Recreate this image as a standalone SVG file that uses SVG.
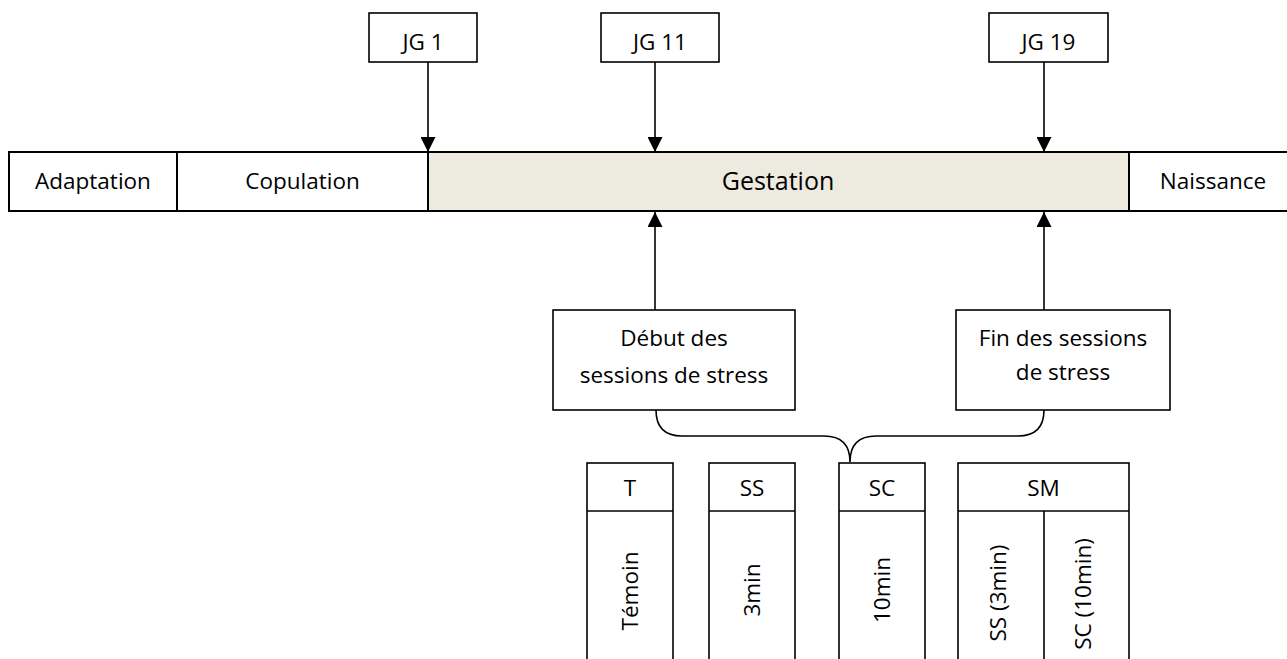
<svg xmlns="http://www.w3.org/2000/svg" width="1287" height="659" viewBox="0 0 1287 659">
  <style>
    .box { fill: #ffffff; stroke: #000000; stroke-width: 1.6; }
    .bar { fill: #ffffff; stroke: #000000; stroke-width: 2; }
    .gest { fill: #EDEAE0; stroke: #000000; stroke-width: 2; }
    .txt { font-family: "Open Sans", "Liberation Sans", sans-serif; font-size: 22.5px; fill: #000000; text-anchor: middle; }
    .big { font-size: 25px; }
    .conn { fill: none; stroke: #000000; stroke-width: 1.6; }
  </style>
  <defs>
    <marker id="arrow" markerUnits="userSpaceOnUse" markerWidth="15" markerHeight="15" refX="15" refY="7.5" orient="auto">
      <path d="M0,0 L15,7.5 L0,15 Z" fill="#000000"/>
    </marker>
  </defs>

  <rect width="1287" height="659" fill="#ffffff"/>

  <g id="timeline">
    <g id="adaptation">
      <rect class="bar" x="9" y="152" width="168" height="59"/>
      <text class="txt" x="93" y="189">Adaptation</text>
    </g>
    <g id="copulation">
      <rect class="bar" x="177" y="152" width="251" height="59"/>
      <text class="txt" x="302.5" y="189">Copulation</text>
    </g>
    <g id="gestation">
      <rect class="gest" x="428" y="152" width="701" height="59"/>
      <text class="txt big" x="778" y="190">Gestation</text>
    </g>
    <g id="naissance">
      <rect class="bar" x="1129" y="152" width="168" height="59"/>
      <text class="txt" x="1213" y="189">Naissance</text>
    </g>
  </g>

  <g id="jg1">
    <rect class="box" x="369" y="13" width="108" height="49"/>
    <text class="txt" x="423" y="50">JG 1</text>
  </g>
  <g id="jg11">
    <rect class="box" x="601" y="13" width="118" height="49"/>
    <text class="txt" x="660" y="50">JG 11</text>
  </g>
  <g id="jg19">
    <rect class="box" x="989" y="13" width="119" height="49"/>
    <text class="txt" x="1048.5" y="50">JG 19</text>
  </g>

  <g id="debut">
    <rect class="box" x="553" y="310" width="242" height="100"/>
    <text class="txt" x="674" y="346">Début des</text>
    <text class="txt" x="674" y="383">sessions de stress</text>
  </g>
  <g id="fin">
    <rect class="box" x="956" y="310" width="214" height="100"/>
    <text class="txt" x="1063" y="346">Fin des sessions</text>
    <text class="txt" x="1063" y="380">de stress</text>
  </g>

  <g id="group-T">
    <rect class="box" x="587" y="463" width="86" height="206"/>
    <line class="conn" x1="587" y1="511" x2="673" y2="511"/>
    <text class="txt" x="630" y="496">T</text>
    <text class="txt" transform="translate(638,591) rotate(-90)" x="0" y="0">Témoin</text>
  </g>
  <g id="group-SS">
    <rect class="box" x="709" y="463" width="86" height="206"/>
    <line class="conn" x1="709" y1="511" x2="795" y2="511"/>
    <text class="txt" x="752" y="496">SS</text>
    <text class="txt" transform="translate(760,590) rotate(-90)" x="0" y="0">3min</text>
  </g>
  <g id="group-SC">
    <rect class="box" x="839" y="463" width="86" height="206"/>
    <line class="conn" x1="839" y1="511" x2="925" y2="511"/>
    <text class="txt" x="882" y="496">SC</text>
    <text class="txt" transform="translate(890,590) rotate(-90)" x="0" y="0">10min</text>
  </g>
  <g id="group-SM">
    <rect class="box" x="958" y="463" width="171" height="206"/>
    <line class="conn" x1="958" y1="511" x2="1129" y2="511"/>
    <line class="conn" x1="1044" y1="511" x2="1044" y2="669"/>
    <text class="txt" x="1043.5" y="496">SM</text>
    <text class="txt" transform="translate(1006,593) rotate(-90)" x="0" y="0">SS (3min)</text>
    <text class="txt" transform="translate(1091,594) rotate(-90)" x="0" y="0">SC (10min)</text>
  </g>

  <g id="connectors">
    <line class="conn" x1="428" y1="62" x2="428" y2="152" marker-end="url(#arrow)"/>
    <line class="conn" x1="655" y1="62" x2="655" y2="152" marker-end="url(#arrow)"/>
    <line class="conn" x1="1044" y1="62" x2="1044" y2="152" marker-end="url(#arrow)"/>
    <line class="conn" x1="655" y1="310" x2="655" y2="212" marker-end="url(#arrow)"/>
    <line class="conn" x1="1044" y1="310" x2="1044" y2="212" marker-end="url(#arrow)"/>
    <path class="conn" d="M656,410 Q656,436 682,436 L824,436 Q850,436 850,462 Q850,436 876,436 L1018,436 Q1044,436 1044,410"/>
  </g>
</svg>
